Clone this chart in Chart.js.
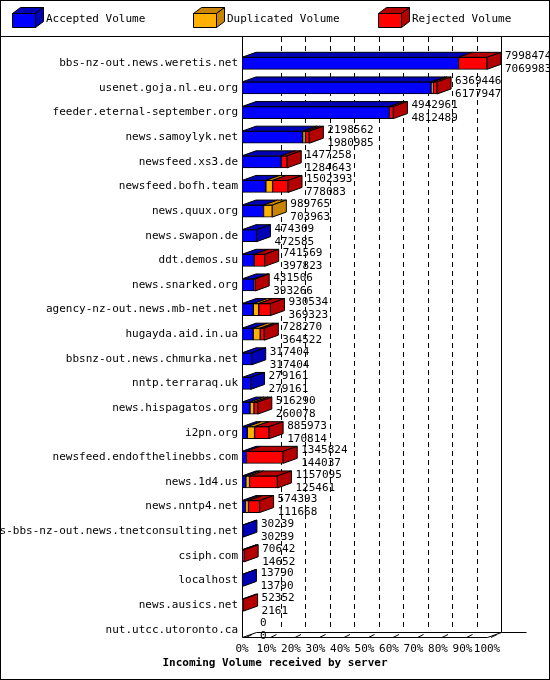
<!DOCTYPE html>
<html><head><meta charset="utf-8">
<script src="https://cdn.jsdelivr.net/npm/chart.js@4"></script>
<style>html,body{margin:0;padding:0;background:#fff}#w{width:548px;height:678px;border:1px solid #000;position:relative}canvas{position:absolute;left:-1px;top:-1px}</style>
</head><body><div id="w"><canvas id="c" width="550" height="680"></canvas></div>
<script>
const servers=["bbs-nz-out.news.weretis.net","usenet.goja.nl.eu.org","feeder.eternal-september.org","news.samoylyk.net","newsfeed.xs3.de","newsfeed.bofh.team","news.quux.org","news.swapon.de","ddt.demos.su","news.snarked.org","agency-nz-out.news.mb-net.net","hugayda.aid.in.ua","bbsnz-out.news.chmurka.net","nntp.terraraq.uk","news.hispagatos.org","i2pn.org","newsfeed.endofthelinebbs.com","news.1d4.us","news.nntp4.net","news-bbs-nz-out.news.tnetconsulting.net","csiph.com","localhost","news.ausics.net","nut.utcc.utoronto.ca"];
const totalVol=[7998474,6369446,4942961,2198562,1477258,1502393,989765,474309,741569,431506,930534,728270,317404,279161,516290,885973,1345824,1157095,574393,30239,70642,13790,52352,0];
const accepted=[7069983,6177947,4812489,1980985,1284643,778083,703963,472585,397823,393266,369323,364522,317404,279161,260078,170814,144037,125461,111668,30239,14652,13790,2161,0];
const duplicated=[0,60000,0,90000,0,220000,285802,0,0,0,175000,230000,0,0,130000,240000,0,120000,100000,0,0,0,0,0];
const rejected=totalVol.map((t,i)=>t-accepted[i]-duplicated[i]);
const tickLabels=["0%","10%","20%","30%","40%","50%","60%","70%","80%","90%","100%"];
const FONT='11px "DejaVu Sans Mono", monospace';
const DX=14,DY=-5;
const fronts=["#0000ff","#ffb000","#ff0000"], tops=["#0000b4","#c88400","#b40000"], sides=["#0000b4","#c88400","#b40000"];
function poly(ctx,pts,fill){ctx.beginPath();ctx.moveTo(pts[0][0],pts[0][1]);for(const p of pts.slice(1))ctx.lineTo(p[0],p[1]);ctx.closePath();ctx.fillStyle=fill;ctx.fill();ctx.strokeStyle="#000";ctx.lineWidth=1;ctx.stroke();}
const deco={id:'deco',
beforeDatasetsDraw(ch){const ctx=ch.ctx,a=ch.chartArea,x=ch.scales.x;ctx.save();
 ctx.strokeStyle="#000";ctx.lineWidth=1;
 ctx.beginPath();ctx.moveTo(0,36.5);ctx.lineTo(550,36.5);ctx.stroke();
 ctx.setLineDash([5,4]);
 for(let i=1;i<=10;i++){const px=Math.round(x.getPixelForValue(totalVol[0]*i/10))+DX+0.5;ctx.beginPath();ctx.moveTo(px,37);ctx.lineTo(px,a.bottom+DY-6);ctx.stroke();}
 ctx.setLineDash([]);
 const L=Math.round(a.left)+0.5,R=Math.round(x.getPixelForValue(totalVol[0]))+0.5,B=a.bottom-4.5;
 ctx.beginPath();ctx.moveTo(L,37);ctx.lineTo(L,B);ctx.lineTo(R,B);ctx.lineTo(R+DX,B+DY);ctx.lineTo(L+DX,B+DY);ctx.lineTo(L,B);ctx.stroke();
 ctx.beginPath();ctx.moveTo(R+DX,37);ctx.lineTo(R+DX,B+DY);ctx.lineTo(R+DX+25,B+DY);ctx.stroke();
 ctx.font=FONT;ctx.fillStyle="#000";ctx.textAlign="center";ctx.textBaseline="middle";
 for(let i=0;i<=10;i++){const px=x.getPixelForValue(totalVol[0]*i/10);ctx.fillText(tickLabels[i],px,B+12);
  ctx.beginPath();ctx.moveTo(px+4,B);ctx.lineTo(px+10,B-3);ctx.stroke();}
 ctx.font='bold 11px "DejaVu Sans Mono", monospace';ctx.fillText("Incoming Volume received by server",275,B+26);
 ctx.font=FONT;ctx.textAlign="right";
 const y=ch.scales.y;servers.forEach((s,i)=>ctx.fillText(s,238,y.getPixelForValue(i)));
 const lg=[["Accepted Volume",12],["Duplicated Volume",193],["Rejected Volume",378]];
 ctx.textAlign="left";
 lg.forEach((l,k)=>{const bx=l[1]+0.5,by=13.5,w=23,h=14;
  poly(ctx,[[bx,by],[bx+w,by],[bx+w+8,by-6],[bx+8,by-6]],tops[k]);
  poly(ctx,[[bx+w,by],[bx+w+8,by-6],[bx+w+8,by+h-6],[bx+w,by+h]],sides[k]);
  poly(ctx,[[bx,by],[bx+w,by],[bx+w,by+h],[bx,by+h]],fronts[k]);
  ctx.fillStyle="#000";ctx.fillText(l[0],l[1]+34,19);});
 ctx.restore();},
afterDatasetsDraw(ch){const ctx=ch.ctx;ctx.save();
 const metas=[0,1,2].map(k=>ch.getDatasetMeta(k).data);
 for(let i=0;i<servers.length;i++){let last=-1,top=0,bot=0,end=0;
  for(let k=0;k<3;k++){const b=metas[k][i];const x0=Math.min(b.x,b.base),x1=Math.max(b.x,b.base);top=b.y-b.height/2;bot=b.y+b.height/2;
   if(x1-x0>0.3){poly(ctx,[[x0,top],[x1,top],[x1+DX,top+DY],[x0+DX,top+DY]],tops[k]);last=k;end=x1;}}
  if(last>=0)poly(ctx,[[end,top],[end+DX,top+DY],[end+DX,bot+DY],[end,bot]],sides[last]);
  else end=metas[0][i].base;
  ctx.font=FONT;ctx.fillStyle="#000";ctx.textAlign="left";ctx.textBaseline="middle";
  const cy=metas[0][i].y;ctx.fillText(String(totalVol[i]),end+DX+4,cy-7);ctx.fillText(String(accepted[i]),end+DX+4,cy+6);}
 ctx.restore();}};
new Chart(document.getElementById('c'),{type:'bar',
 data:{labels:servers,datasets:[
  {label:"Accepted Volume",data:accepted,backgroundColor:fronts[0]},
  {label:"Duplicated Volume",data:duplicated,backgroundColor:fronts[1]},
  {label:"Rejected Volume",data:rejected,backgroundColor:fronts[2]}].map(d=>Object.assign(d,{borderColor:"#000",borderWidth:1,borderSkipped:false,barThickness:12}))},
 options:{indexAxis:'y',responsive:false,animation:false,devicePixelRatio:1,
  layout:{padding:{left:242,right:63,top:51,bottom:38}},
  plugins:{legend:{display:false},tooltip:{enabled:false}},
  scales:{x:{display:false,stacked:true,min:0,max:totalVol[0]},y:{display:false,stacked:true,offset:true}}},
 plugins:[deco]});
</script></body></html>
